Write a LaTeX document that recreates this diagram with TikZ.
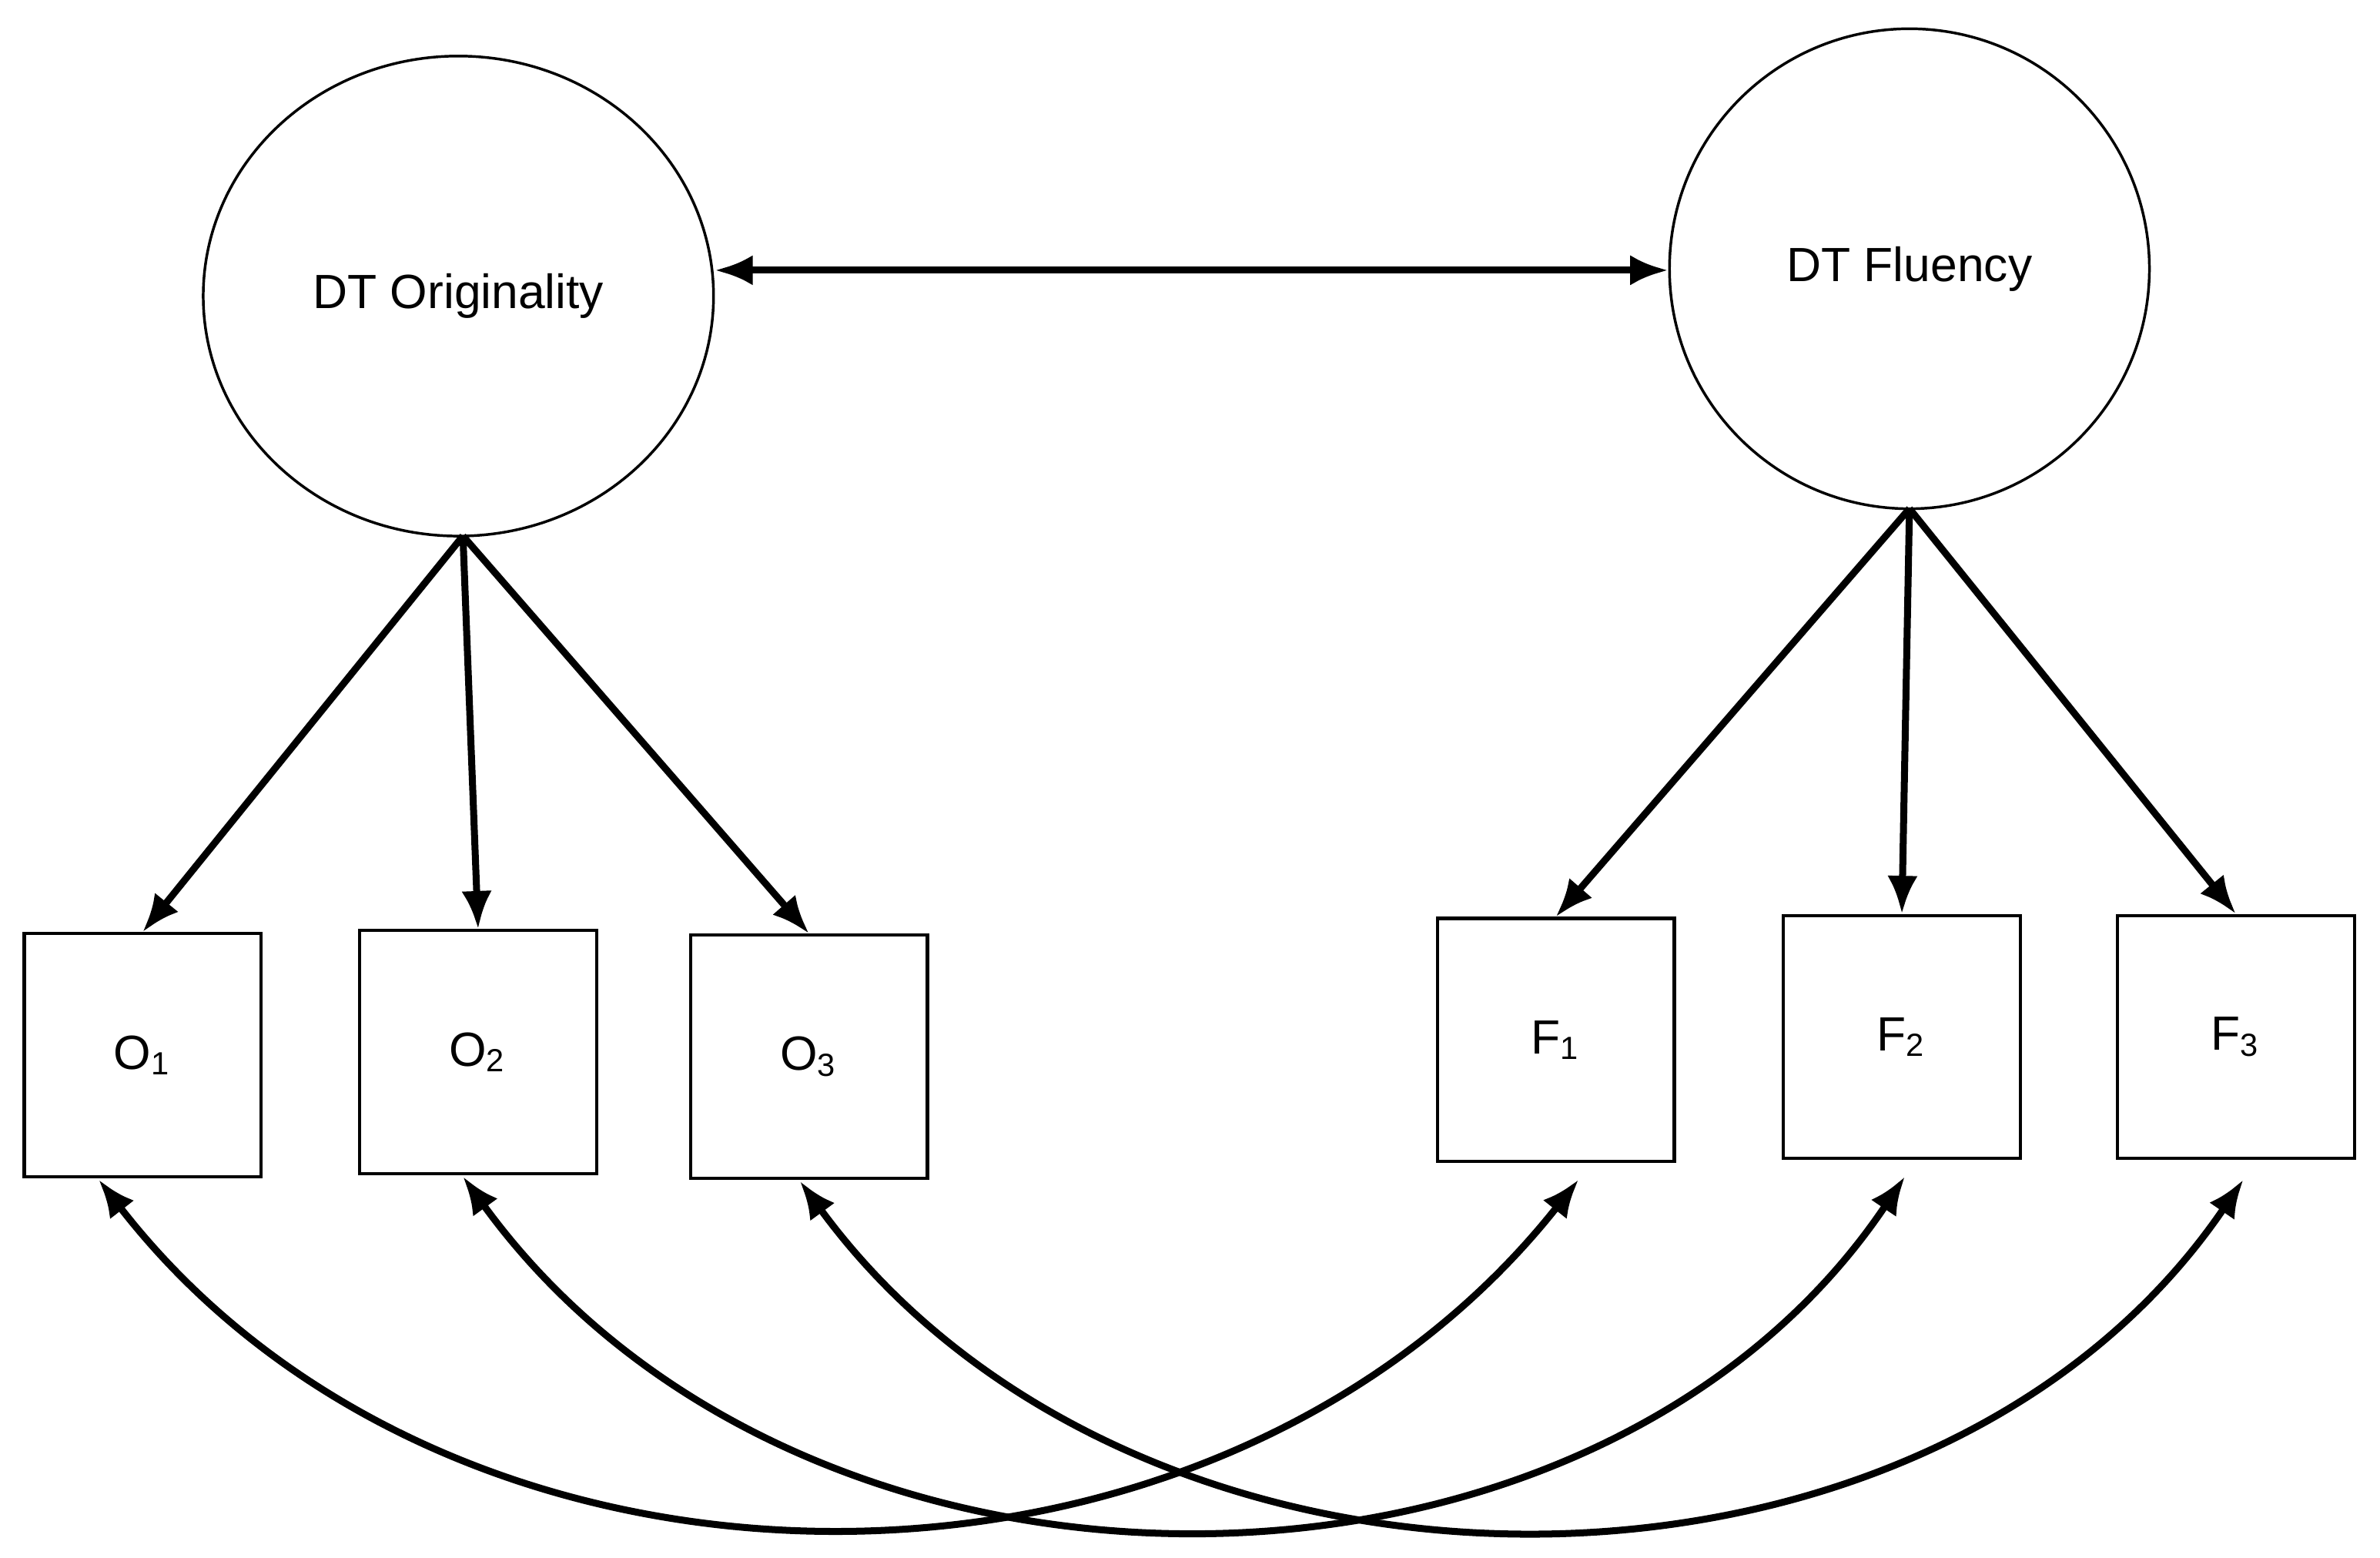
\documentclass[tikz,border=0pt]{standalone}
\usepackage{fontspec}
\setmainfont{Liberation Sans}
\usetikzlibrary{arrows.meta,shapes.geometric}
\begin{document}
\begin{tikzpicture}[x=0.01cm,y=-0.01cm,
  lat/.style={draw,line width=0.5pt,ellipse,inner sep=0pt},
  obs/.style={draw,line width=0.6pt,minimum width=1.56cm,minimum height=1.6cm,inner sep=0pt},
  arr/.style={line width=1.3pt,-{Latex[length=0.25cm,width=0.2cm]}},
  darr/.style={line width=1.3pt,{Latex[length=0.25cm,width=0.2cm]}-{Latex[length=0.25cm,width=0.2cm]}},
  font=\fontsize{9}{11}\selectfont]
\useasboundingbox (0,0) rectangle (1568,1026);
\node[lat,minimum width=3.36cm,minimum height=3.16cm] (DO) at (302,195) {DT Originality};
\node[lat,minimum width=3.16cm,minimum height=3.16cm] (DF) at (1258,177) {DT Fluency};
\node[obs] (O1) at (94,695) {O\textsubscript{1}};
\node[obs] (O2) at (315,693) {O\textsubscript{2}};
\node[obs] (O3) at (533,696) {O\textsubscript{3}};
\node[obs] (F1) at (1025,685) {F\textsubscript{1}};
\node[obs] (F2) at (1253,683) {F\textsubscript{2}};
\node[obs] (F3) at (1473,683) {F\textsubscript{3}};
\draw[darr] (DO.east |- 0,178) -- (DF.west |- 0,178);
\coordinate (dob) at (305,353);
\coordinate (dfb) at (1258,335);
\draw[arr] (dob) -- (O1.north);
\draw[arr] (dob) -- (O2.north);
\draw[arr] (dob) -- (O3.north);
\draw[arr] (dfb) -- (F1.north);
\draw[arr] (dfb) -- (F2.north);
\draw[arr] (dfb) -- (F3.north);
\coordinate (o1) at (65,777); \coordinate (f1) at (1040,777);
\coordinate (o2) at (305,775); \coordinate (f2) at (1255,775);
\coordinate (o3) at (527,778); \coordinate (f3) at (1478,777);
\draw[darr] (o1) .. controls (300,1080) and (800,1080) .. (f1);
\draw[darr] (o2) .. controls (530,1085) and (1050,1080) .. (f2);
\draw[darr] (o3) .. controls (750,1082) and (1270,1082) .. (f3);
\end{tikzpicture}
\end{document}
